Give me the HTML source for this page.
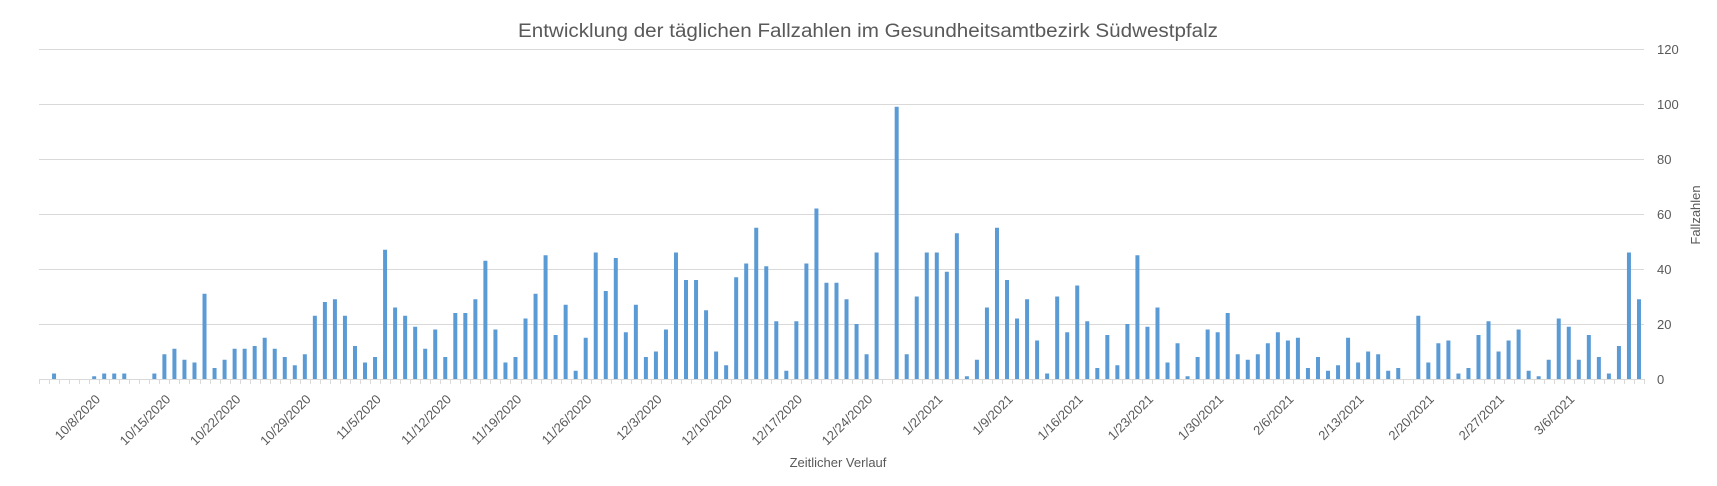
<!DOCTYPE html>
<html><head><meta charset="utf-8"><style>html,body{margin:0;padding:0;background:#fff}svg{display:block}text{font-family:"Liberation Sans",sans-serif;fill:#595959}</style></head>
<body>
<svg width="1717" height="486" xmlns="http://www.w3.org/2000/svg" id="c">
<text x="868" y="37" font-size="19" text-anchor="middle" textLength="700" lengthAdjust="spacingAndGlyphs">Entwicklung der täglichen Fallzahlen im Gesundheitsamtbezirk Südwestpfalz</text>
<g stroke="#d9d9d9" stroke-width="1">
<line x1="39" x2="1644" y1="49.5" y2="49.5"/>
<line x1="39" x2="1644" y1="104.5" y2="104.5"/>
<line x1="39" x2="1644" y1="159.5" y2="159.5"/>
<line x1="39" x2="1644" y1="214.5" y2="214.5"/>
<line x1="39" x2="1644" y1="269.5" y2="269.5"/>
<line x1="39" x2="1644" y1="324.5" y2="324.5"/>
<line x1="39" x2="1644" y1="379.5" y2="379.5"/>
</g>
<g font-size="13">
<text x="1657" y="54">120</text><text x="1657" y="109">100</text><text x="1657" y="164">80</text><text x="1657" y="219">60</text><text x="1657" y="274">40</text><text x="1657" y="329">20</text><text x="1657" y="384">0</text>
</g>
<text font-size="13" transform="translate(1700,215) rotate(-90)" text-anchor="middle">Fallzahlen</text>
<text font-size="13" x="838" y="467" text-anchor="middle">Zeitlicher Verlauf</text>
<g id="bars" fill="#5b9bd5"></g>
<g id="ticks" stroke="#d9d9d9"></g>
<g id="lbl" font-size="13"></g>
</svg>
<script>
var d=[0,2,0,0,0,1,2,2,2,0,0,2,9,11,7,6,31,4,7,11,11,12,15,11,8,5,9,23,28,29,23,12,6,8,47,26,23,19,11,18,
8,24,24,29,43,18,6,8,22,31,45,16,27,3,15,46,32,44,17,27,8,10,18,46,36,36,25,10,5,37,42,55,41,21,3,21,42,62,35,35,
29,20,9,46,0,99,9,30,46,46,39,53,1,7,26,55,36,22,29,14,2,30,17,34,21,4,16,5,20,45,19,26,6,13,1,8,18,17,24,9,
7,9,13,17,14,15,4,8,3,5,15,6,10,9,3,4,0,23,6,13,14,2,4,16,21,10,14,18,3,1,7,22,19,7,16,8,2,12,46,29];
var ns="http://www.w3.org/2000/svg",b=document.getElementById("bars"),t=document.getElementById("ticks"),l=document.getElementById("lbl");
var w=1605/160;
for(var i=0;i<160;i++){var cx=39+w*(i+0.5);if(d[i]>0){var r=document.createElementNS(ns,"rect");var h=d[i]*2.75;r.setAttribute("x",cx-2);r.setAttribute("width",4);r.setAttribute("y",379-h);r.setAttribute("height",h);b.appendChild(r);}}
for(var i=0;i<=160;i++){var x=Math.round(39+w*i)+0.5;var ln=document.createElementNS(ns,"line");ln.setAttribute("x1",x);ln.setAttribute("x2",x);ln.setAttribute("y1",379);ln.setAttribute("y2",384);t.appendChild(ln);}
var L=["10/8/2020","10/15/2020","10/22/2020","10/29/2020","11/5/2020","11/12/2020","11/19/2020","11/26/2020","12/3/2020","12/10/2020","12/17/2020","12/24/2020","1/2/2021","1/9/2021","1/16/2021","1/23/2021","1/30/2021","2/6/2021","2/13/2021","2/20/2021","2/27/2021","3/6/2021"];
for(var i=0;i<L.length;i++){var x=101+70.2*i,y=400;var tx=document.createElementNS(ns,"text");tx.setAttribute("text-anchor","end");tx.setAttribute("transform","translate("+x+","+y+") rotate(-45)");tx.textContent=L[i];l.appendChild(tx);}
</script>
</body></html>
